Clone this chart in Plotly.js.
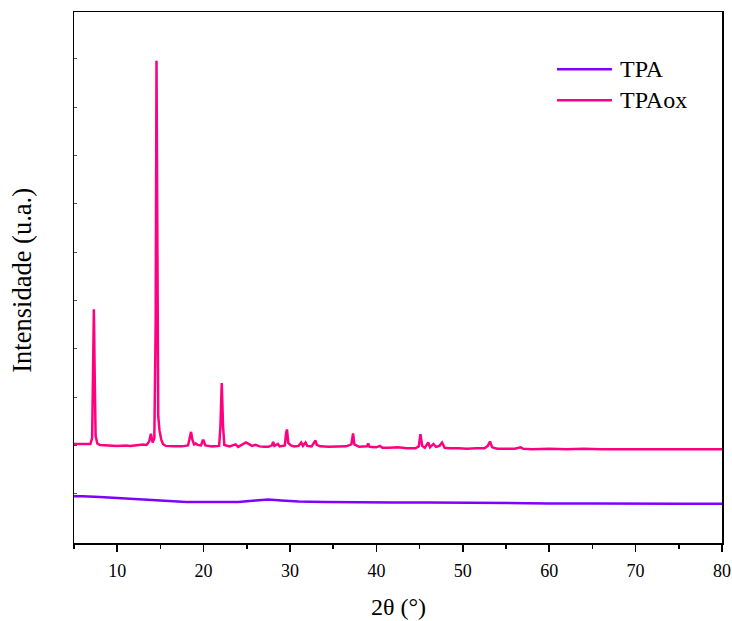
<!DOCTYPE html>
<html>
<head>
<meta charset="utf-8">
<script src="https://cdn.plot.ly/plotly-3.0.1.min.js"></script>
<style>html,body{margin:0;padding:0;background:#fff;}#chart{width:732px;height:621px;}</style>
</head>
<body>
<div id="chart"></div>
<script>
// TPA (amorphous) pattern
const tpaX = [5, 6, 8, 10, 12, 14, 16, 18, 20, 22, 24, 26, 27.5, 29, 31, 34, 38, 42, 46, 50, 55, 60, 65, 70, 75, 80];
const tpaY = [0.95, 0.95, 0.93, 0.91, 0.88, 0.86, 0.84, 0.83, 0.83, 0.83, 0.83, 0.86, 0.88, 0.86, 0.84, 0.83, 0.82, 0.82, 0.82, 0.81, 0.81, 0.80, 0.80, 0.79, 0.79, 0.79];

// TPAox (crystalline) pattern
const tpaoxX = [5.0, 5.5, 6.0, 6.5, 6.9, 7.1, 7.2, 7.3, 7.4, 7.5, 7.7, 8.0, 9.0, 10.0, 11.0, 11.5, 12.0, 12.5, 13.0, 13.4, 13.7, 13.9, 14.1, 14.3, 14.45, 14.55, 14.65, 14.75, 14.9, 15.1, 15.3, 15.6, 16.5, 17.5, 18.2, 18.4, 18.55, 18.7, 18.9, 19.1, 19.3, 19.7, 19.9, 20.0, 20.2, 21.0, 21.8, 21.95, 22.1, 22.25, 22.4, 23.0, 23.5, 23.7, 24.0, 24.5, 24.9, 25.2, 25.6, 26.0, 26.5, 27.0, 27.5, 27.9, 28.05, 28.2, 28.6, 28.8, 29.4, 29.55, 29.65, 29.8, 30.1, 30.5, 31.0, 31.3, 31.5, 31.8, 32.0, 32.5, 32.8, 32.95, 33.1, 33.5, 34.5, 35.5, 36.5, 37.1, 37.3, 37.45, 38.0, 38.9, 39.05, 39.2, 40.0, 40.4, 40.7, 41.5, 42.5, 43.5, 44.5, 44.9, 45.1, 45.3, 45.6, 46.0, 46.2, 46.6, 46.9, 47.3, 47.6, 47.9, 48.5, 49.5, 50.5, 51.5, 52.5, 52.9, 53.15, 53.4, 54.0, 55.0, 56.0, 56.7, 57.0, 58, 60, 62, 64, 66, 68, 70, 72, 74, 76, 78, 80];
const tpaoxY = [2.03, 2.03, 2.02, 2.02, 2.03, 2.15, 3.2, 4.82, 3.4, 2.2, 2.04, 2.01, 2.00, 1.99, 2.00, 1.99, 2.00, 2.01, 2.02, 2.01, 2.08, 2.24, 2.06, 2.15, 4.5, 9.96, 7.0, 2.6, 2.30, 2.12, 2.03, 1.99, 1.98, 1.98, 2.00, 2.15, 2.28, 2.12, 2.02, 2.04, 2.01, 2.00, 2.10, 2.10, 2.00, 1.98, 1.99, 2.4, 3.29, 2.4, 2.01, 1.98, 2.01, 2.02, 1.97, 2.02, 2.06, 2.03, 1.99, 2.01, 1.98, 1.97, 1.97, 2.0, 2.07, 1.99, 2.03, 1.98, 2.00, 2.25, 2.33, 2.05, 2.00, 1.98, 1.99, 2.06, 1.99, 2.06, 1.99, 1.98, 2.06, 2.10, 2.01, 1.98, 1.97, 1.97, 1.98, 2.02, 2.25, 2.02, 1.97, 1.98, 2.04, 1.97, 1.96, 1.99, 1.95, 1.95, 1.96, 1.94, 1.94, 1.98, 2.23, 1.99, 1.95, 2.06, 1.96, 2.03, 1.97, 1.99, 2.06, 1.95, 1.94, 1.94, 1.93, 1.94, 1.94, 1.99, 2.08, 1.96, 1.93, 1.93, 1.93, 1.96, 1.93, 1.92, 1.93, 1.92, 1.93, 1.92, 1.92, 1.93, 1.93, 1.92, 1.93, 1.92, 1.92];

const xTickVals = [10, 20, 30, 40, 50, 60, 70, 80];
const xTickText = ['10', '20', '30', '40', '50', '60', '70', '80'];

const seriesNames = ['TPA', 'TPAox'];
const seriesColors = ['#8000ff', '#ff0080'];
const xTitle = '2θ (°)';
const yTitle = 'Intensidade (u.a.)';

const font = 'Liberation Serif';

const traces = [
  {x: tpaX, y: tpaY, name: seriesNames[0], type: 'scatter', mode: 'lines',
   line: {color: seriesColors[0], width: 2.5}},
  {x: tpaoxX, y: tpaoxY, name: seriesNames[1], type: 'scatter', mode: 'lines',
   line: {color: seriesColors[1], width: 2.5}}
];

// manual legend (paper coordinates)
const legY = [0.892, 0.834];
const shapes = seriesNames.map((n, i) => ({
  type: 'line', xref: 'paper', yref: 'paper',
  x0: 0.7454, x1: 0.8302, y0: legY[i], y1: legY[i],
  line: {color: seriesColors[i], width: 2.5}
}));
const annotations = seriesNames.map((n, i) => ({
  text: n, xref: 'paper', yref: 'paper', x: 0.8395, y: legY[i],
  xanchor: 'left', yanchor: 'middle', showarrow: false,
  font: {family: font, size: 24, color: '#000'}
}));
// axis titles
annotations.push({
  text: xTitle, xref: 'paper', yref: 'paper', x: 0.5, y: -0.121,
  xanchor: 'center', yanchor: 'middle', showarrow: false,
  font: {family: font, size: 24, color: '#000'}
});
annotations.push({
  text: yTitle, xref: 'paper', yref: 'paper', x: -0.0802, y: 0.494,
  xanchor: 'center', yanchor: 'middle', showarrow: false, textangle: -90,
  font: {family: font, size: 26.5, color: '#000'}
});

const layout = {
  width: 732, height: 621,
  margin: {l: 74, r: 10, t: 12, b: 78},
  paper_bgcolor: '#fff', plot_bgcolor: '#fff',
  font: {family: font, color: '#000', size: 16},
  showlegend: false,
  shapes: shapes,
  annotations: annotations,
  xaxis: {
    range: [5, 80], tickvals: xTickVals, ticktext: xTickText,
    ticks: 'outside', ticklen: 7, tickwidth: 1.5, tickcolor: '#000',
    minor: {dtick: 5, tick0: 5, ticks: 'outside', ticklen: 4, tickwidth: 1.5, tickcolor: '#000'},
    showline: true, linecolor: '#000', linewidth: 1.5, mirror: true,
    showgrid: false, zeroline: false,
    ticklabelstandoff: 4,
    tickfont: {family: font, size: 18, color: '#000'}
  },
  yaxis: {
    range: [-0.02, 10.97], dtick: 1, tick0: 0,
    ticks: 'inside', ticklen: 3, tickwidth: 1, tickcolor: '#555',
    showticklabels: false,
    showline: true, linecolor: '#000', linewidth: 1.5, mirror: true,
    showgrid: false, zeroline: false
  }
};

Plotly.newPlot('chart', traces, layout, {displayModeBar: false, staticPlot: true});
</script>
</body>
</html>
